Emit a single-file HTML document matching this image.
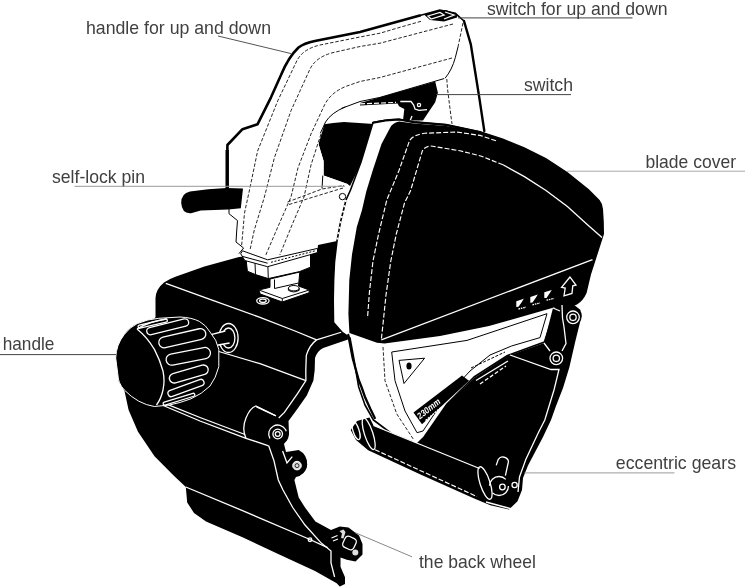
<!DOCTYPE html>
<html>
<head>
<meta charset="utf-8">
<style>
html,body{margin:0;padding:0;background:#fff;}
body{width:745px;height:587px;overflow:hidden;font-family:"Liberation Sans",sans-serif;}
svg{display:block;}
text{font-family:"Liberation Sans",sans-serif;font-size:17.7px;fill:#404040;}
.w{fill:none;stroke:#fff;stroke-width:1.3;}
.k{fill:none;stroke:#000;stroke-width:1;}
.d{fill:none;stroke:#000;stroke-width:0.85;stroke-dasharray:3.5 1.8;}
.wd{fill:none;stroke:#fff;stroke-width:1.15;stroke-dasharray:5 2;}
</style>
</head>
<body>
<svg width="745" height="587" viewBox="0 0 745 587">
<defs><filter id="soft" x="0" y="0" width="745" height="587" filterUnits="userSpaceOnUse"><feGaussianBlur stdDeviation="0.45"/></filter></defs>
<rect width="745" height="587" fill="#fff"/>
<g filter="url(#soft)">

<!-- ===== BASE (black) ===== -->
<g id="base">
<path fill="#000" d="M155.5,298 Q156,289 164,282.5 Q169,279 175.4,276.7 L204.4,266.6 L239,257 L310,250 L310,240 L342,238 L348,339.4 L323.2,347.9 Q317,351 315,358 L314.7,370 L313.4,380.6 L306.8,395.6 L297.5,408.7 L288.5,421
 L289,434 L284,444 L286,452 L298.7,450 Q308,455 307,466 Q305,475 296,477 L294.4,480 L298.7,497.4 L305,507.5 L315.4,521.4 L331,530 L339.8,526.6 L348.5,527.5 L359,535.4 L362.5,544 L362.5,554.6 L355.5,561.5 L346.8,559.8 L340.5,557.5
 L340.5,566.8 L345,577.3 L345,584 L339.8,586.5 L336.7,583.2 L315,571 L278.7,554.2 L242.5,537.3 L206,521.6 L194,513 L187.2,502.6 L185.8,487
 L173.6,475.4 L154.5,456.3 L138,431.8 L128.6,410 L124.5,391 L118.3,380.7 L155.5,317 Z"/>
<circle cx="277.7" cy="434" r="11.2" fill="#000"/>
<circle cx="296.3" cy="464.3" r="10.8" fill="#000"/>
<!-- top front edge -->
<path class="w" d="M165.8,283.3 L210.7,299.7 L260,317.3 L295,331 L316.6,339.9"/>
<path class="w" d="M342,332 L316.6,339.9 Q309.5,345 306.3,355.4 L305.8,370 L305.9,380.6 L297.5,393.7 L284.4,412.4 L278.7,418"/>
<!-- mid line right of hole -->
<path class="w" d="M218.8,351.5 L260,363.7 L305.9,380.6"/>
<!-- lower front edge of upper block -->
<path class="w" d="M162,405 L200,421 L246,438.3 L268.7,445.8"/>
<path class="w" d="M166,403.8 L200,417.5 L245,434.5"/>
<!-- bracket -->
<path class="w" d="M246,438.3 Q241.5,428.7 246,418 Q250,408 255.8,406 L276,415.8"/>
<path class="w" stroke-width="1.6" d="M256.5,406.8 L275,415.5"/>
<!-- ledge top edge -->
<path class="w" d="M185.8,487 L242.5,510.7 L307.7,538.5 L327.6,547.6"/>
<circle cx="310" cy="539.7" r="1.8" class="w"/>
<!-- arm inner line -->
<path class="w" d="M268.7,445.8 L274,460.9 L278.3,480 L283,490 L292.7,507.5 L305,525 L320.6,542.4 L331,551 L331,563 L334.6,577"/>
<!-- notch V -->
<path class="w" stroke-width="1.3" d="M282.6,451 L287,463 L292.3,456.6"/>
<!-- ear bolts -->
<circle cx="277.7" cy="434" r="9" class="w" stroke-dasharray="30 27" transform="rotate(150 277.7 434)"/>
<circle cx="277.7" cy="434" r="4.8" class="w"/><circle cx="277.7" cy="434" r="2.4" class="w"/>
<circle cx="297" cy="465.6" r="4.3" fill="#ddd" stroke="#fff" stroke-width="1"/><circle cx="297" cy="465.6" r="2" fill="none" stroke="#000" stroke-width="0.8"/>
<!-- wheel details -->
<rect x="343.5" y="537" width="12" height="12" rx="3.5" transform="rotate(25 349.5 543)" class="w"/>
<path fill="#ddd" d="M339.5,531 L343.5,529.5 L345.5,532 L343.5,538.5 L341,538 L342,533.5 Z"/>
<path class="w" stroke-width="1.4" d="M331.5,538 L337.5,535.5 M333,541 L338,539"/>
<circle cx="355.3" cy="552.5" r="3" fill="#ddd"/>
<!-- screw on top surface -->
<ellipse cx="262.9" cy="300.8" rx="6.2" ry="3.2" class="w"/><ellipse cx="262.9" cy="300.8" rx="3.3" ry="1.7" class="w"/>
<!-- hole with pin -->
<ellipse cx="228.5" cy="338" rx="9.6" ry="14.5" class="w"/>
<ellipse cx="228.5" cy="338" rx="6.4" ry="10" class="w"/>
<path fill="#000" d="M208,335.4 L225.3,331 L229.6,343 L212.4,346 Z"/>
<path class="w" d="M208,335.4 L225.3,331 M212.4,346 L229.6,343"/>
<circle cx="209.3" cy="338.7" r="2.4" class="w"/>
</g>

<!-- ===== KNOB ===== -->
<g id="knob">
<path fill="#000" stroke="#fff" stroke-width="1" d="M115.7,358 Q116,345 124.3,334.4 Q130,327 137.2,323.6 Q148,319 158.7,318.3 L180,317 Q192,317.5 199.5,321.5 Q206,325 210,332 Q217,340 218.8,349.4 L218.8,366.6 Q216,378 210,386 Q202,394 191,398.8 Q180,403 169.4,405 L154.4,406.5 Q138,404 124.3,390 Q118,383 117.9,375 Z"/>
<path class="w" d="M137,329 Q147,337 154.4,349.4 Q160,360 163,371 Q165,381 163,390 Q161,399 156.5,405"/>
<path class="w" d="M137,329 Q150,321 167,319"/>
<g class="w" stroke-width="1.5">
<rect x="137.7" y="322.0" width="30.0" height="3.2" rx="1.6" transform="rotate(-13 152.7 323.6)"/>
<rect x="146.2" y="323.1" width="43.0" height="7.4" rx="3.7" transform="rotate(-14 167.7 326.8)"/>
<rect x="158.3" y="332.8" width="48.0" height="10.8" rx="5.4" transform="rotate(-13 182.3 338.2)"/>
<rect x="165.8" y="350.7" width="45.0" height="11.2" rx="5.6" transform="rotate(-11 188.3 356.3)"/>
<rect x="168.8" y="369.2" width="40.0" height="9.6" rx="4.8" transform="rotate(-16 188.8 374)"/>
<rect x="167.0" y="384.7" width="38.0" height="6.6" rx="3.3" transform="rotate(-20 186 388)"/>
<rect x="162.5" y="397.7" width="33.0" height="3.0" rx="1.5" transform="rotate(-17 179 399.2)"/>
</g>
</g>

<!-- ===== MOTOR (black, behind handle) ===== -->
<path fill="#000" d="M322.5,124.5 Q333,122.5 344,122 L374,124 L368,144 L360,166 L350,186 L347.5,184 L323.6,175.6 L323.6,161 L318.5,144 L319.4,132 Z"/>

<!-- ===== HANDLE ===== -->
<g id="handle">
<!-- white fill -->
<path fill="#fff" d="M227,190 L227.4,144.3 L242.5,129.2 L257.6,124.2 L271,97.3 L284.5,67 Q290,54 304.6,45.3 L360,32 L419.8,15.5 L439.8,10 L455.3,13.3 L464,21 L470.8,44.3 L475,70.8 L479.6,99.6 L484,131 L452,124 L450.8,115 L446.4,77.5 L380,97.4 L360,99 L341.5,107.4 Q330,113 325,122.5 L318.5,144 L323.6,161 L323.6,175.6 L347.5,184 L348.3,186 L346,200 L337,241 L318,245 L317.5,250 L267.6,263 L240,254 L235.5,239.8 L237.7,224.3 L236.6,215.4 L229,210 Z"/>
<!-- outer thick outline -->
<path fill="none" stroke="#000" stroke-width="2.6" stroke-linejoin="round" stroke-linecap="round" d="M227.2,190 L227.4,145 L242.5,129.2 L257.6,124.2 L271,97.3 L281,75 Q288.3,57.2 298.5,47.5 Q304,43.3 314.9,41 L360,32 L419.8,15.5"/>
<path fill="none" stroke="#000" stroke-width="1.6" d="M419.8,15.5 L439.8,10 L455.3,13.3 L464,21"/>
<path fill="none" stroke="#000" stroke-width="2.4" stroke-linecap="round" d="M464,21 L470.8,44.3 L475,70.8 L479.6,99.6 L484.3,131"/>
<!-- lower-left outline -->
<path class="k" stroke-width="1.6" d="M229,209 L229,213.7 L237.5,220.6 L236.7,231 L236,242 L243.6,248 L239,253.6"/>
<!-- arch underside -->
<path class="k" stroke-width="1.4" d="M444,78.6 L380,97.4 L360,101.5 L341.5,108.4"/>
<path class="k" stroke-width="2.4" stroke-linecap="round" d="M345,107 Q331,113 325.5,122 L320.5,133"/>
<path class="k" stroke-width="1.2" d="M322.8,175.6 L322,188.4"/>
<!-- dashed internal lines -->
<path class="d" d="M421,21.3 L400,27.3 L380,33.2 L360,37 L320,45 Q303,49 297,60.5 L277.8,100.7 L257.6,151 L249.5,190 L244.5,213 L241.5,247"/>
<path class="d" d="M453,24 L380,43.2 L360,46.5 L333,52.6 Q316,57 310,69 L291,110.7 L274.4,157.7 L264.4,197 L254.3,230 L250,250"/>
<path class="d" d="M452,58 L380,77.5 L360,81.5 L347,86 Q331,92 324.5,105 L311,134 L298,167.8 L291,197 L276.5,230 L265.4,256"/>
<path class="d" d="M321,134 L311,165 L304,197 L292,225 L279.8,255"/>
<path class="d" d="M463,23 L458,47"/>
<path class="k" stroke-width="0.9" d="M458,47 L455.3,57.6 Q452,70 445,78.3"/>
<path class="d" stroke-dasharray="5 2.5" d="M446.8,79 L447.5,88.6 L450.8,115 L452,124"/>
<!-- motor bottom dashed edges -->
<path class="d" d="M287.6,202 L322,189 L344,185.5"/>
<path class="d" stroke-dasharray="1.5 1.5" d="M289,204.5 L343,188"/>
<circle cx="342.5" cy="196.6" r="3.2" class="k"/>
<!-- switch on top -->
<path fill="#000" d="M424,14.5 L438,10.5 L446,10 L457,14 L457,17.5 L444,21.5 L430,20 Z"/>
<path class="w" stroke-width="0.9" d="M428,16 L440,12.5 L444,15 L431,19 Z M445,12 L454,15 L444,19"/>
</g>

<!-- ===== SELF LOCK PIN ===== -->
<path fill="#000" d="M190,191.5 Q208,188.6 226.7,188 L243,188.6 L240.8,208.3 L228.3,209.6 L200.7,210.4 L192,213 Q182,214.5 181.2,203 Q181,193.5 190,191.5 Z"/>
<path fill="none" stroke="#000" stroke-width="3.4" d="M227.2,150 L227.2,192"/>

<!-- ===== SWITCH CAVITY ===== -->
<g id="switch">
<path fill="#000" d="M360,102.9 L435.2,81.4 L437.9,92.8 L435.2,102.2 L429.8,110.3 L423,120.5 L403,120.5 L404.3,109 L399,106.2 L397.6,103.6 L360,105.6 Z"/>
<path class="w" stroke-width="1.5" d="M400.3,101.5 L411,101.5 L413.7,105 L415,109 L419,110.3 L427,109.6"/>
<path class="wd" stroke-dasharray="3 2" d="M360,103.9 L396,102.4"/>
<circle cx="419" cy="105" r="1.6" class="w"/>
<path class="w" d="M412,116 L410,121"/>
</g>

<!-- ===== POST / FOOT ===== -->
<g id="post">
<path fill="#fff" stroke="#000" stroke-width="1" d="M258.9,290 L270,287.3 L270,279 L299.8,272 L298.5,286 L309.2,290 L309.2,292.7 L282.3,302 L260.2,294 Z"/>
<path class="k" d="M258.9,290 L282.3,298.5 L309.2,290 M282.3,298.5 L282.3,302"/>
<path class="k" d="M274.5,279.5 L274.5,288.5 L298.5,283"/>
<ellipse cx="293.8" cy="288.2" rx="5.4" ry="2.7" fill="#fff" stroke="#000" stroke-width="1"/>
<path class="k" d="M288.4,288.2 L288.4,290.3 Q293.8,293.5 299.2,290.3 L299.2,288.2"/>
<path fill="#fff" stroke="#000" stroke-width="1" d="M246,259 L247.4,271.2 L255.5,274.6 L268.3,278.6 L299.8,271.5 L310.5,267.2 L310.5,253 L267.6,265 Z"/>
<path class="k" d="M255,263 L255.5,274.6 M267.9,266.5 L268.3,278.6"/>
<!-- rim flange -->
<path fill="#fff" stroke="#000" stroke-width="1" d="M240.7,253.8 L242.5,250.8 L267.6,259.8 L317.5,248.4 L317.5,252.6 L267.6,266.7 L244.8,260.5 Z"/>
<path class="k" stroke-width="0.8" d="M242,256.3 L267.6,263.2"/>
<path class="k" stroke-width="2.4" stroke-dasharray="2 1.6" d="M271,262.3 L316,250.6"/>
</g>

<!-- ===== BLADE COVER ===== -->
<g id="cover">
<!-- white body / rim -->
<path fill="#fff" stroke="#000" stroke-width="1.6" stroke-linejoin="round" d="M373,122.5 Q385,119.5 399,119.3 L414,122 L446,124.7 L480,132 L520,148 L556,307 L544.4,342 L507.5,355.5 L474,377 L447,404 L423.6,437.7 L417,444 L400,440 L373.5,420 L365,405 L358.7,387 L353.7,358 L350,338 L342.5,332.7 L333.5,322.5 L333.2,300 L333.6,280 L334.5,262 L337,241 L340.5,222 L346,200 L350.5,190 L361,162 Z"/>
<path fill="none" stroke="#fff" stroke-width="2" stroke-dasharray="2 3.5" d="M346,200 L340.5,222 L337,241"/>
<path fill="none" stroke="#000" stroke-width="2.3" stroke-linecap="round" d="M348.3,335 L352.7,358.2 L358.7,380 L361.5,387 L365,397 L370.4,409 L374.8,418"/>
<path fill="none" stroke="#000" stroke-width="2.2" stroke-linecap="round" d="M373,122.8 Q385,119.8 399,119.5 L414,122.2 L446,124.9 L480,132.2"/>
<!-- black face -->
<path fill="#000" d="M390,128 Q392,123 399,121.5 L414,123.5 L446,126 L460,128.3 L481.5,131.5 L503,138.5 L524.4,147.3 L546,158 L567.4,172 L588.9,189.3 L599.6,200 Q602.8,204 603,209 L603.8,222 L604,234 L597.6,254 L591,274.5 L586.6,293 Q583,301 577,304.5 L566,309 L556,307 L550.4,308.5 L489,326 L440,336 L384.5,343.4 L377,342.7 L349.4,333 L348.4,314 L349.3,280 L352,254.5 L356.8,227 L362,210 L366.2,191.8 L373,169.6 L381.5,144 Z"/>
<!-- dashed curves -->
<path class="wd" d="M496,140.8 L480,135.4 L456.6,132 L424.4,133.3 Q413,135 409.5,140.8 L398.8,171 L386.8,200 L378.6,234 L373,261 L369.4,292.5 L367.5,318"/>
<path class="w" stroke-width="0.9" d="M602,237.4 L588.9,226 L567.4,206.6 L546,190.5 L524.4,176.6 L503,164.8"/>
<path class="wd" d="M503,164.8 L481.5,156.2 L460,150.8 L431,146 Q424.5,146.5 422.3,151 L410.6,190.6 L404.5,203 L396.3,234 L390.8,261 L386,295 L383,324 L381.3,339.8"/>
<!-- bottom chamfer line -->
<path class="w" stroke-width="1" d="M381.3,339.8 L592.5,259.6"/>
</g>


<!-- ===== LOWER GUARD + ROLLER ===== -->
<g id="guard">
<path fill="#000" d="M474,378 L507.5,356 L544,343 L553,308 L563,304 L573,304 L580.5,310 L580.5,320.4 L575.4,341 L569.3,367.5 L563,388 L556,406 L551,420 L543,437 L528,465.4 L523,478 L522,490 L517.5,501.3 L509,509.5 L490.3,505.3 L474.2,498.6 L420.5,474.4 L368.2,450.3 L356,440 L350.7,430 L357,421 L369.5,417.4 L373.5,425.5 L412.5,441 L417,444 L423.6,437.7 L447,404 Z"/>
<circle cx="572.5" cy="316" r="9.3" fill="#000"/>
<!-- bolts -->
<circle cx="573" cy="317.3" r="6.3" class="w"/><circle cx="573" cy="317.3" r="3.2" class="w"/>
<circle cx="556.3" cy="358.3" r="6.3" class="w"/><circle cx="556.3" cy="358.3" r="3.2" class="w"/>
<!-- arm outline -->
<path class="w" d="M562,305 L562.5,318 L564,327 L566,343.5 L562,351"/>
<path class="w" d="M553,308 L560,311"/>
<path class="w" d="M544,343 L550,351"/>
<!-- guard inner top line and right inset line -->
<path class="w" d="M510,355 L551,369.5 L559,369.5 L554,390 L544.8,420 L538.2,433 L525.9,459.3 L519.5,477 L518,492"/>
<path class="w" d="M476,380.5 L508,361"/>
<path class="w" stroke-dasharray="4 2" d="M480,384 L506,366"/>
<!-- roller lines -->
<path class="w" d="M373.5,425.5 L479.6,468.5"/>
<path class="wd" d="M375,449.7 L477,496.6"/>
<ellipse cx="368.7" cy="433.8" rx="4.2" ry="16.5" transform="rotate(-18 368.7 433.8)" class="w"/>
<ellipse cx="356" cy="430.5" rx="3" ry="9.5" transform="rotate(-18 356 430.5)" class="w"/>
<ellipse cx="485" cy="483" rx="5" ry="17" transform="rotate(-18 485 483)" class="w"/>
<path class="w" d="M496.2,465.4 L498.3,459.3 Q500.5,456.3 503.4,457 Q508,458 508.5,461.5 L505.4,475.7"/>
<circle cx="499" cy="486" r="9.5" class="w" stroke-dasharray="22 8"/>
<circle cx="502.4" cy="487" r="2.8" class="w"/>
<circle cx="514.6" cy="485" r="2.6" class="w"/>
<path class="w" d="M486,502 L512,509"/>
</g>

<!-- ===== LOWER WHITE PANEL DETAILS ===== -->
<g id="panel">
<path class="k" d="M391.7,352 L467,340.4 L547,313.7 L540,337.6 L511.5,346 L490,355 L470,371 L445,398 L423,431 L417,432.7 L405,411 L395,380.7 Z"/>
<path class="d" d="M383,347 L385,380.7 L396.8,414 L413.5,439.4"/>
<path class="k" stroke-width="1.2" d="M399,360.4 L424.6,358.2 L404,383.5 Z"/>
<ellipse cx="409" cy="366" rx="2.6" ry="3.6" fill="#000"/>
<path fill="#000" d="M413.5,412.5 L462,375.6 L469,380.7 L422,424.3 Z"/>
<text transform="translate(420,419.5) rotate(-38.5)" style="font-size:9px;font-weight:bold;font-style:italic;fill:#fff" x="0" y="0" textLength="27" lengthAdjust="spacingAndGlyphs">230mm</text>
<path class="w" stroke-width="1" stroke-dasharray="2 1" d="M425.5,420.5 L441,407.5"/>
<path class="k" stroke-dasharray="3 1.5" d="M471,368 L505,352"/>
</g>

<!-- ===== COVER ICONS ===== -->
<g id="icons">
<path class="w" stroke-width="1.2" d="M570,277 L561.6,287.4 L565.2,288 L564,295.8 L572,293.4 L572.8,285.8 L576,285 Z"/>
<path fill="#fff" d="M516.3,301.2 L523.8,298.8 L521.5,302.5 L518.5,306.8 L516.3,307 Z M530.3,297 L537.8,294.6 L535.5,298.3 L532.5,302.6 L530.3,302.8 Z M544.3,292.3 L551.8,289.9 L549.5,293.6 L546.5,297.9 L544.3,298.1 Z"/>
<path class="w" stroke-width="1.4" stroke-dasharray="1.6 0.8" d="M518.5,309 L526,307.2 M532.5,304.8 L540,303 M546.5,300.2 L554,298.4"/>
</g>

<!-- ===== LABELS ===== -->
<g id="labels">
<text x="86" y="33.5" textLength="185" lengthAdjust="spacingAndGlyphs">handle for up and down</text>
<line x1="218" y1="36" x2="291.5" y2="53.7" stroke="#555" stroke-width="1"/>
<text x="487" y="14.7" textLength="180.5" lengthAdjust="spacingAndGlyphs">switch for up and down</text>
<line x1="458" y1="17.9" x2="632.5" y2="17.9" stroke="#444" stroke-width="1"/>
<text x="524" y="91" textLength="49" lengthAdjust="spacingAndGlyphs">switch</text>
<line x1="436" y1="94.6" x2="571" y2="94.6" stroke="#444" stroke-width="1"/>
<text x="645.5" y="168" textLength="90.5" lengthAdjust="spacingAndGlyphs">blade cover</text>
<line x1="567" y1="171.2" x2="745" y2="171.2" stroke="#aaa" stroke-width="1"/>
<text x="52" y="182.5" textLength="93" lengthAdjust="spacingAndGlyphs">self-lock pin</text>
<line x1="74.5" y1="186.3" x2="345" y2="186.3" stroke="#999" stroke-width="1"/>
<text x="2.7" y="350" textLength="51.7" lengthAdjust="spacingAndGlyphs">handle</text>
<line x1="0" y1="354.6" x2="116" y2="354.6" stroke="#444" stroke-width="1"/>
<text x="615.8" y="469.2" textLength="120.2" lengthAdjust="spacingAndGlyphs">eccentric gears</text>
<line x1="524.5" y1="472.9" x2="674.5" y2="472.9" stroke="#999" stroke-width="1"/>
<text x="419" y="568" textLength="117" lengthAdjust="spacingAndGlyphs">the back wheel</text>
<line x1="355" y1="532.6" x2="412" y2="556.8" stroke="#888" stroke-width="1"/>
</g>
</g>
</svg>
</body>
</html>
